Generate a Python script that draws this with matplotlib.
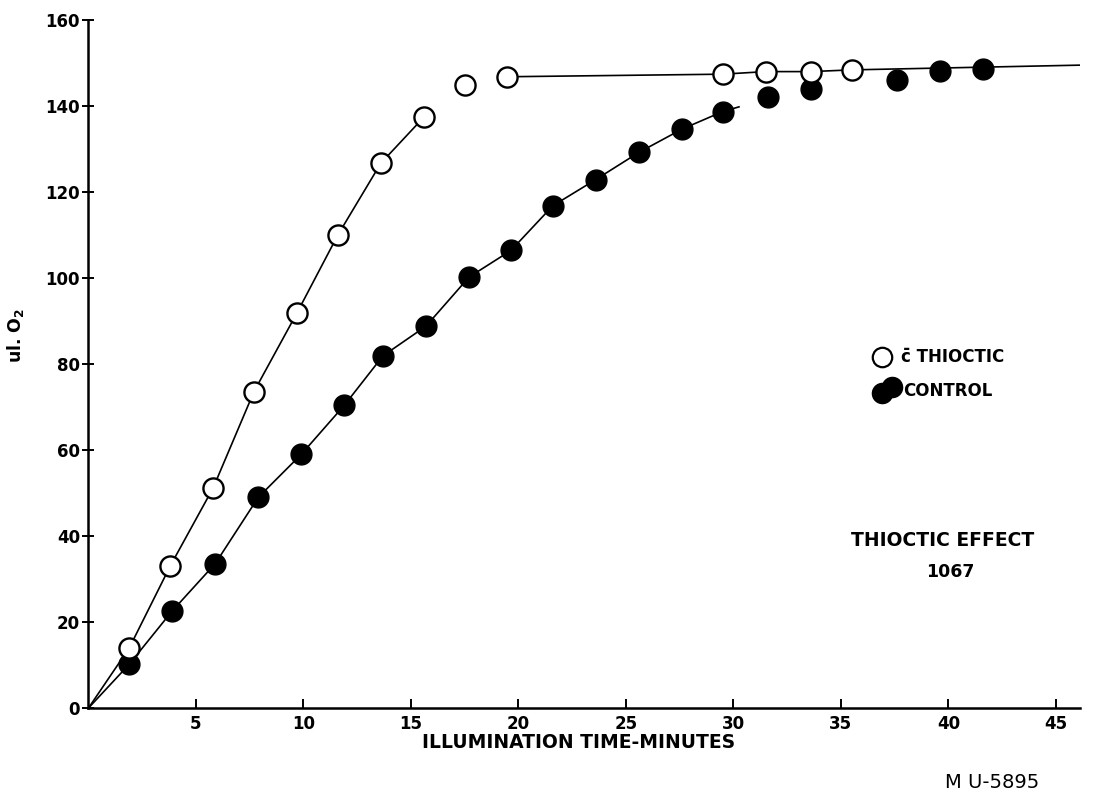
import numpy as np
import matplotlib.pyplot as plt

plt.rcParams['mathtext.fontset'] = 'dejavusans'

# values (apparent positions)
thioctic_x = [1.9, 3.8, 5.8, 7.7, 9.7, 11.6, 13.6, 15.6, 17.5, 19.45, 29.5, 31.5, 33.6, 35.5]
thioctic_y = [14, 33, 51.2, 73.6, 91.9, 110, 126.7, 137.4, 144.9, 146.8, 147.4, 148, 148, 148.4]

control_x = [1.9, 3.9, 5.9, 7.9, 9.9, 11.9, 13.7, 15.7, 17.7, 19.65, 21.6, 23.6, 25.6, 27.6, 29.5,
             31.6, 33.6, 37.6, 39.6, 41.6]
control_y = [10.2, 22.6, 33.6, 49, 59, 70.4, 81.9, 88.8, 100.2, 106.4, 116.8, 122.9, 129.2, 134.6, 138.7,
             142, 144, 146, 148.2, 148.6]

# hand drawn curves
rise_x = [0] + thioctic_x[:8]
rise_y = [0] + thioctic_y[:8]
plateau_x = thioctic_x[9:] + [46.1]
plateau_y = thioctic_y[9:] + [149.5]
control_curve_x = [0] + control_x[:15] + [30.26]
control_curve_y = [0] + control_y[:15] + [139.8]

x_ticks = [5, 10, 15, 20, 25, 30, 35, 40, 45]
y_ticks = [0, 20, 40, 60, 80, 100, 120, 140, 160]

W, H = 1101, 797
fig = plt.figure(figsize=(W / 100, H / 100), dpi=100)
ax = fig.add_axes([88.5 / W, 1 - 708 / H, 991 / W, 688 / H])

ax.plot(rise_x, rise_y, color='black', lw=1.2, zorder=2)
ax.plot(plateau_x, plateau_y, color='black', lw=1.2, zorder=2)
ax.plot(control_curve_x, control_curve_y, color='black', lw=1.2, zorder=2)

ax.plot(control_x, control_y, 'o', ms=15, mfc='black', mec='black', ls='none', zorder=3)
ax.plot(thioctic_x, thioctic_y, 'o', ms=14.5, mfc='white', mec='black', mew=1.7, ls='none', zorder=4)

ax.set_xlim(0, 46.1)
ax.set_ylim(0, 160)
ax.set_xticks(x_ticks)
ax.set_yticks(y_ticks)
ax.spines['top'].set_visible(False)
ax.spines['right'].set_visible(False)
for s in ['left', 'bottom']:
    ax.spines[s].set_linewidth(1.8)
ax.tick_params(axis='x', direction='in', length=6.5, width=1.4, pad=5, labelsize=12)
ax.tick_params(axis='y', direction='inout', length=8, width=1.4, pad=2, labelsize=12)
for lab in ax.get_xticklabels() + ax.get_yticklabels():
    lab.set_fontweight('bold')

fig.text(579 / W, 1 - 743 / H, 'ILLUMINATION TIME-MINUTES', ha='center', va='center',
         fontsize=13.5, fontweight='bold')
fig.text(15 / W, 1 - 335 / H, r'ul. O$_\mathbf{2}$', rotation=90, ha='center', va='center',
         fontsize=12.5, fontweight='bold')

# legend drawn by hand, like the original
fig.lines.append(plt.Line2D([881.7 / W], [1 - 356.7 / H], marker='o', ms=14, mfc='white', mec='black',
                            mew=1.6, transform=fig.transFigure))
fig.lines.append(plt.Line2D([881.7 / W, 891.7 / W], [1 - 393.3 / H, 1 - 386.7 / H], marker='o', ms=14.5,
                            mfc='black', mec='black', ls='none', transform=fig.transFigure))
fig.text(901 / W, 1 - 357 / H, 'c\u0304 THIOCTIC', ha='left', va='center', fontsize=12, fontweight='bold')
fig.text(903 / W, 1 - 391 / H, 'CONTROL', ha='left', va='center', fontsize=12, fontweight='bold')

fig.text(943 / W, 1 - 540 / H, 'THIOCTIC EFFECT', ha='center', va='center', fontsize=13.5, fontweight='bold')
fig.text(950 / W, 1 - 572 / H, '1067', ha='center', va='center', fontsize=12.5, fontweight='bold')
fig.text(992 / W, 1 - 783 / H, 'M U-5895', ha='center', va='center', fontsize=14)

fig.savefig('out.png', dpi=100, facecolor='white')
